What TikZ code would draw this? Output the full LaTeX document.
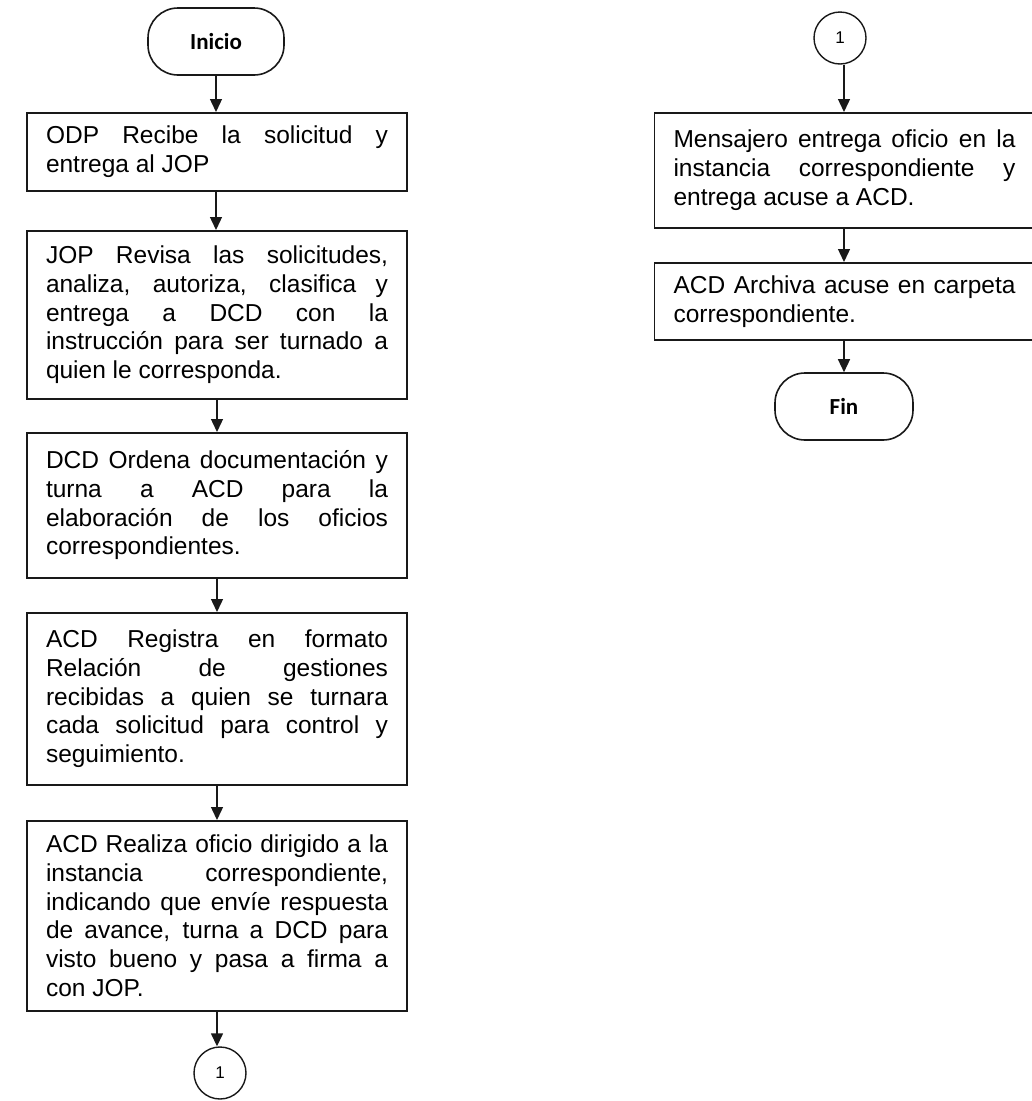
\documentclass[tikz,border=0pt]{standalone}
\usepackage{fontspec}
\setmainfont{Liberation Sans}
\newfontfamily\termfont{Carlito}
\usetikzlibrary{arrows.meta}
\tolerance=9999\relax
\hbadness=10000\relax
\hyphenpenalty=10000\relax
\exhyphenpenalty=10000\relax
\tikzset{
  procbox/.style={draw=black!90, line width=1.6pt, fill=white, text width=342pt,
    inner xsep=19pt, inner ysep=4pt, anchor=north, align=justify,
    font=\fontsize{24.5}{28.8}\selectfont},
  termbox/.style={draw=black!90, line width=1.6pt, rounded corners=30pt,
    minimum width=136pt, minimum height=67pt, font=\termfont\bfseries\fontsize{23}{26}\selectfont},
  conn/.style={draw=black!90, line width=1.4pt, shape=circle, minimum size=52pt, inner sep=0pt,
    font=\fontsize{17}{19}\selectfont},
  flow/.style={line width=1.4pt, draw=black!90, -{Triangle[length=13pt,width=12pt]}}
}
\begin{document}
\begin{tikzpicture}[x=1pt,y=-1pt]
\useasboundingbox[fill=white] (0,0) rectangle (1032,1101);
% left column
\node[termbox] (ini) at (216,41.5) {Inicio};
\node[procbox, minimum height=78pt] (b1) at (217,112)
  {ODP Recibe la solicitud y\linebreak entrega al JOP};
\node[procbox, minimum height=168pt] (b2) at (217,230)
  {JOP Revisa las solicitudes,\linebreak analiza, autoriza, clasifica y\linebreak entrega a DCD con la\linebreak instrucción para ser turnado a\linebreak quien le corresponda.};
\node[procbox, minimum height=145pt] (b3) at (217,432)
  {DCD Ordena documentación y\linebreak turna a ACD para la\linebreak elaboración de los oficios\linebreak correspondientes.};
\node[procbox, minimum height=172pt] (b4) at (217,612)
  {ACD Registra en formato\linebreak Relación de gestiones\linebreak recibidas a quien se turnara\linebreak cada solicitud para control y\linebreak seguimiento.};
\node[procbox, minimum height=190pt] (b5) at (217,820)
  {ACD Realiza oficio dirigido a la\linebreak instancia correspondiente,\linebreak indicando que envíe respuesta\linebreak de avance, turna a DCD para\linebreak visto bueno y pasa a firma a\linebreak con JOP.};
\node[conn] (c1) at (220,1073) {1};
% right column
\node[conn] (c2) at (840,38) {1};
\node[procbox, minimum height=115pt] (r1) at (844.5,112)
  {Mensajero entrega oficio en la\linebreak instancia correspondiente y\linebreak entrega acuse a ACD.};
\node[procbox, minimum height=77pt] (r2) at (844.5,262)
  {ACD Archiva acuse en carpeta\linebreak correspondiente.};
\node[termbox, minimum width=138pt] (fin) at (844,406.5) {Fin};
% connectors
\draw[flow] (ini.south) -- (ini.south |- b1.north);
\draw[flow] (b1.south -| ini.south) -- (ini.south |- b2.north);
\draw[flow] (b2.south) -- (b3.north);
\draw[flow] (b3.south) -- (b4.north);
\draw[flow] (b4.south) -- (b5.north);
\draw[flow] (b5.south) -- (b5.south |- c1.north);
\draw[flow] (c2.south -| fin.north) -- (fin.north |- r1.north);
\draw[flow] (r1.south -| fin.north) -- (fin.north |- r2.north);
\draw[flow] (r2.south -| fin.north) -- (fin.north);
\end{tikzpicture}
\end{document}
